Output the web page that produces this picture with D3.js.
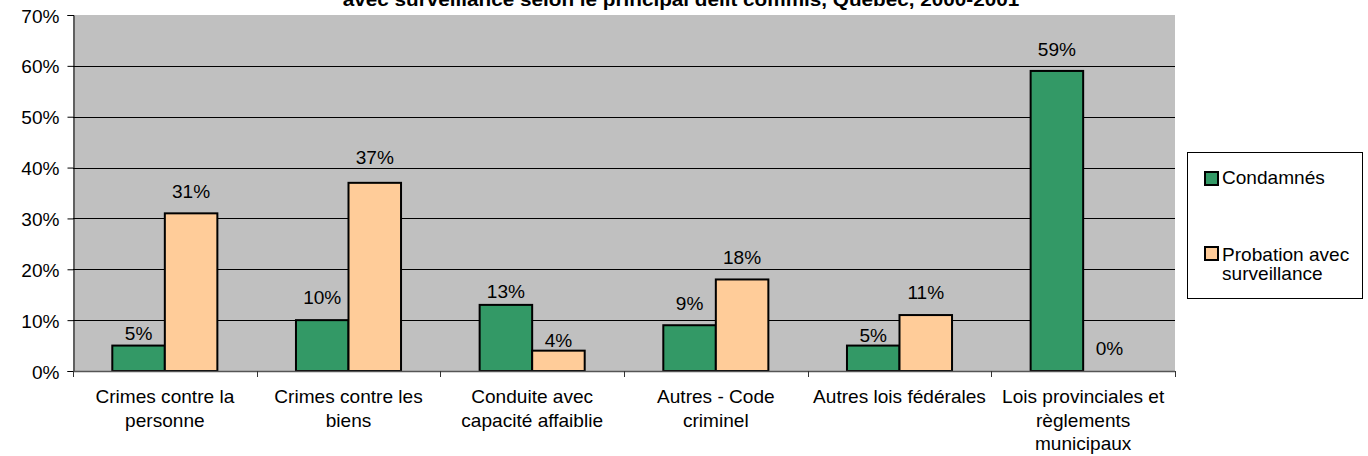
<!DOCTYPE html>
<html>
<head>
<meta charset="utf-8">
<script src="https://cdn.jsdelivr.net/npm/d3@7"></script>
<style>
  html, body { margin: 0; padding: 0; background: #ffffff; }
  svg { display: block; }
  text { font-family: Arial, "Liberation Sans", sans-serif; fill: #000; }
</style>
</head>
<body>
<svg id="chart" width="1368" height="456"></svg>
<script>
// ---- data ----
const titleText = "avec surveillance selon le principal délit commis, Québec, 2000-2001";
const categories = [
  "Crimes contre la\npersonne",
  "Crimes contre les\nbiens",
  "Conduite avec\ncapacité affaiblie",
  "Autres - Code\ncriminel",
  "Autres lois fédérales",
  "Lois provinciales et\nrèglements\nmunicipaux"
];
const seriesNames = ["Condamnés", "Probation avec\nsurveillance"];
const condamnes = [5, 10, 13, 9, 5, 59];
const probation = [31, 37, 4, 18, 11, 0];
const yTicks = [0, 10, 20, 30, 40, 50, 60, 70];

// ---- layout / style (not data) ----
const colors = ["#339966", "#FFCC99"];
const labelGap = [[6, 16, 7, 15, 4, 15], [15, 19, 4, 15, 16, 16]];
const FS = 17.5, SX = 1.09;
const plot = { left: 73, right: 1175, top: 15, bottom: 371 };

const svg = d3.select("#chart");

function txt(g, x, y, s, anchor, opts = {}) {
  return g.append("text")
    .attr("transform", `translate(${x},${y}) scale(${SX},1)`)
    .attr("text-anchor", anchor)
    .style("font-size", (opts.size || FS) + "px")
    .style("font-weight", opts.bold ? "bold" : "normal")
    .text(s);
}

// background
svg.append("rect").attr("x", 0).attr("y", 0).attr("width", 1368).attr("height", 456).attr("fill", "#fff");

const y = d3.scaleLinear().domain([0, 70]).range([plot.bottom, plot.top]);
const x0 = d3.scaleBand().domain(d3.range(categories.length))
  .range([plot.left, plot.right]).paddingInner(0.428).paddingOuter(0.214);
const x1 = d3.scaleBand().domain([0, 1]).range([0, x0.bandwidth()]);
const xStep = d3.scaleBand().domain(d3.range(categories.length)).range([plot.left, plot.right]);

// plot area
svg.append("rect")
  .attr("x", plot.left).attr("y", plot.top)
  .attr("width", plot.right - plot.left).attr("height", plot.bottom - plot.top)
  .attr("fill", "#C0C0C0");

// gridlines
svg.append("g").selectAll("line").data(yTicks.filter(t => t > 0 && t < 70)).join("line")
  .attr("x1", plot.left).attr("x2", plot.right)
  .attr("y1", d => Math.round(y(d)) + 0.5).attr("y2", d => Math.round(y(d)) + 0.5)
  .attr("stroke", "#000").attr("stroke-width", 1);

// y axis
const yAxis = d3.axisLeft(y).tickValues(yTicks).tickFormat(d => d + "%").tickSize(6).tickPadding(8);
const gy = svg.append("g").attr("transform", `translate(${plot.left + 0.5},0)`).call(yAxis);
gy.select(".domain").attr("stroke", "#000");
gy.selectAll(".tick line").attr("stroke", "#000");
gy.selectAll(".tick text").each(function(d) {
  const t = d3.select(this);
  t.attr("x", null).attr("dy", null)
   .attr("transform", `translate(-14,7) scale(${SX},1)`)
   .style("font-size", FS + "px")
   .style("font-family", "Arial, 'Liberation Sans', sans-serif")
   .attr("fill", "#000");
});

// bars
const series = [condamnes, probation];
const gBars = svg.append("g");
series.forEach((vals, si) => {
  gBars.selectAll(null).data(vals).join("rect")
    .attr("x", (d, i) => x0(i) + x1(si))
    .attr("y", d => y(d))
    .attr("width", x1.bandwidth())
    .attr("height", d => y(0) - y(d))
    .attr("fill", colors[si])
    .attr("stroke", d => d > 0 ? "#000" : "none")
    .attr("stroke-width", 2);
});

// x axis (bottom)
svg.append("line")
  .attr("x1", plot.left).attr("x2", plot.right)
  .attr("y1", plot.bottom + 0.5).attr("y2", plot.bottom + 0.5)
  .attr("stroke", "#555").attr("stroke-width", 1.5);
const boundaries = d3.range(categories.length).map(i => xStep(i)).concat([plot.right]);
svg.append("g").selectAll("line").data(boundaries).join("line")
  .attr("x1", d => Math.round(d) + 0.5).attr("x2", d => Math.round(d) + 0.5)
  .attr("y1", plot.bottom).attr("y2", plot.bottom + 6)
  .attr("stroke", "#333");

// category labels
const gCat = svg.append("g");
categories.forEach((c, i) => {
  const cx = xStep(i) + xStep.bandwidth() / 2;
  c.split("\n").forEach((line, li) => {
    txt(gCat, cx, 403 + li * 23.7, line, "middle");
  });
});

// data labels
const gLab = svg.append("g");
series.forEach((vals, si) => {
  vals.forEach((v, i) => {
    const cx = x0(i) + x1(si) + x1.bandwidth() / 2;
    txt(gLab, cx, y(v) - labelGap[si][i], v + "%", "middle");
  });
});

// title (partially cut off at the top, as in the reference)
txt(svg, 681, 6, titleText, "middle", { bold: true, size: 19 });

// legend
const lg = svg.append("g");
lg.append("rect").attr("x", 1187.5).attr("y", 152.5).attr("width", 175).attr("height", 146)
  .attr("fill", "#fff").attr("stroke", "#000").attr("stroke-width", 1);
const legendRows = [{ sy: 172, ty: 184 }, { sy: 247, ty: 261 }];
seriesNames.forEach((name, si) => {
  const r = legendRows[si];
  lg.append("rect").attr("x", 1205).attr("y", r.sy).attr("width", 13).attr("height", 13)
    .attr("fill", colors[si]).attr("stroke", "#000").attr("stroke-width", 2);
  name.split("\n").forEach((line, li) => {
    txt(lg, 1222, r.ty + li * 19, line, "start");
  });
});
</script>
</body>
</html>
